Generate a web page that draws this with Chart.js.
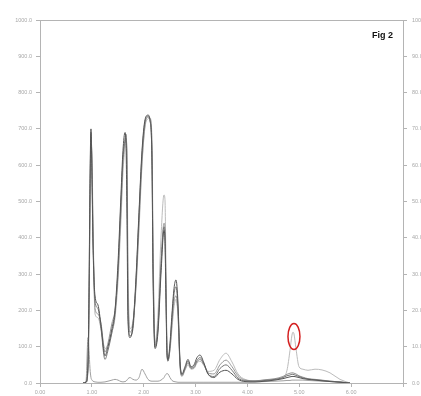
<!DOCTYPE html>
<html><head><meta charset="utf-8">
<script src="https://cdn.jsdelivr.net/npm/chart.js@4/dist/chart.umd.min.js"></script>
<style>
html,body{margin:0;padding:0;background:#fff;overflow:hidden;width:421px;height:396px}
#wrap{position:absolute;left:0;top:0;width:440px;height:396px}
</style>
</head><body><div id="wrap"><canvas id="c"></canvas></div>
<script>
// retention time (min)
const times = [0.829,0.887,0.926,0.945,0.964,0.983,1.003,1.022,1.061,1.118,1.176,1.253,1.311,1.388,1.446,1.504,1.562,1.600,1.639,1.658,1.678,1.697,1.735,1.793,1.851,1.909,1.967,2.025,2.083,2.121,2.160,2.179,2.218,2.275,2.333,2.391,2.410,2.429,2.449,2.468,2.507,2.545,2.584,2.622,2.661,2.700,2.738,2.796,2.854,2.912,2.970,3.027,3.085,3.162,3.240,3.355,3.471,3.587,3.702,3.818,3.953,4.146,4.339,4.531,4.686,4.763,4.821,4.859,4.878,4.898,4.936,4.994,5.071,5.168,5.303,5.438,5.592,5.785,5.978];

const traceA = [0,2,60,250,550,700,560,380,240,215,160,75,100,150,200,330,520,640,690,660,450,170,125,160,290,470,640,725,738,725,600,300,95,140,300,420,390,230,80,65,110,190,260,284,220,60,25,45,65,45,50,70,77,55,25,15,30,35,25,10,4,3,5,8,12,15,17,18,18,18,17,15,12,10,8,6,4,2,0];
const traceB = [0,3,50,230,520,690,580,400,225,205,150,65,90,140,190,310,500,620,670,685,560,200,130,150,280,460,630,720,735,722,610,330,100,150,320,430,410,250,85,60,100,180,245,265,205,55,22,40,60,42,45,62,70,52,25,18,40,50,35,14,6,5,7,10,15,20,22,24,24,23,21,18,14,11,9,7,5,3,0];
const traceC = [0,2,40,200,480,680,600,420,205,190,165,85,110,165,200,300,480,610,665,675,600,260,140,165,270,440,610,710,732,728,640,360,105,160,330,440,425,270,90,62,95,165,225,240,190,50,20,38,55,40,42,58,65,50,28,25,50,63,45,20,8,6,9,12,18,24,27,28,28,27,25,20,16,12,10,8,5,3,0];
const traceD = [0,2,35,180,450,670,620,450,190,180,150,95,105,140,180,280,450,580,650,670,640,320,150,170,260,420,600,705,728,730,670,400,110,190,400,518,505,320,100,68,90,150,210,230,185,45,18,35,50,38,40,55,60,48,32,35,65,82,58,25,10,6,8,10,15,35,90,132,140,135,95,45,38,35,38,36,28,10,0];
const traceE = [0,5,125,90,40,15,8,5,3,2,2,3,5,8,10,8,4,3,4,5,8,12,15,10,8,15,38,25,10,6,5,5,5,5,8,15,20,24,26,25,15,7,4,3,2,2,2,2,2,2,2,2,2,2,2,2,2,2,2,2,2,3,4,5,6,7,7,8,8,8,8,8,8,7,6,5,4,2,0];

const xTickLabels = ["0.00","1.00","2.00","3.00","4.00","5.00","6.00",""];
const highlight = {time: 4.878, value: 128};

const series = [
  {name:"A", values: traceA, color:"#555555"},
  {name:"B", values: traceB, color:"#767676"},
  {name:"C", values: traceC, color:"#959595"},
  {name:"D", values: traceD, color:"#bcbcbc"},
  {name:"E", values: traceE, color:"#a0a0a0"}
];

const datasets = series.map(s => ({
  label: s.name,
  data: times.map((t,i) => ({x:t, y:s.values[i]})),
  borderColor: s.color,
  borderWidth: 1,
  pointRadius: 0,
  fill: false,
  cubicInterpolationMode: 'monotone',
  yAxisID: 'y'
}));

const axisColor = '#b4b4b4';
const tickFont = {family: 'Arial, Liberation Sans, sans-serif', size: 5.5};

const deco = {
  id: 'deco',
  beforeDraw(chart){
    const ctx = chart.ctx;
    ctx.save(); ctx.fillStyle = '#fff'; ctx.fillRect(0,0,chart.width,chart.height); ctx.restore();
  },
  afterDatasetsDraw(chart){
    const ctx = chart.ctx, a = chart.chartArea;
    ctx.save();
    ctx.strokeStyle = axisColor; ctx.lineWidth = 1;
    ctx.beginPath(); ctx.moveTo(a.left, a.top + 0.5); ctx.lineTo(a.right, a.top + 0.5); ctx.stroke();
    const xs = chart.scales.x, ys = chart.scales.y;
    const cx = xs.getPixelForValue(highlight.time), cy = ys.getPixelForValue(highlight.value);
    ctx.strokeStyle = '#d42020'; ctx.lineWidth = 1.5;
    ctx.beginPath(); ctx.ellipse(cx + 1, cy, 6, 13, 0, 0, Math.PI*2); ctx.stroke();
    ctx.fillStyle = '#111'; ctx.font = 'bold 9px Arial, "Liberation Sans", sans-serif';
    ctx.textAlign = 'left'; ctx.textBaseline = 'middle';
    ctx.fillText('Fig 2', a.right - 31, a.top + 16);
    ctx.restore();
  }
};

new Chart(document.getElementById('c'), {
  type: 'line',
  data: {datasets},
  plugins: [deco],
  options: {
    responsive: true, maintainAspectRatio: false, animation: false,
    layout: {padding: {top: 20, left: 0, right: 0, bottom: 0}},
    plugins: {legend: {display: false}, tooltip: {enabled: false}},
    scales: {
      x: {
        type: 'linear', min: 0, max: 7, position: 'bottom',
        afterFit(s){ s.height = 13; },
        afterBuildTicks(s){ s.ticks = [0,1,2,3,4,5,6,7].map(v => ({value: v})); },
        ticks: {font: tickFont, color: '#a8a8a8', padding: 2, maxRotation: 0, autoSkip: false,
          callback: (v, i) => xTickLabels[i]},
        grid: {drawOnChartArea: false, drawTicks: true, tickLength: 4, color: axisColor},
        border: {display: true, color: axisColor}
      },
      y: {
        type: 'linear', min: 0, max: 1000, position: 'left',
        afterFit(s){ s.width = 40; },
        ticks: {stepSize: 100, font: tickFont, color: '#a8a8a8', padding: 4, callback: v => v.toFixed(1)},
        grid: {drawOnChartArea: false, drawTicks: true, tickLength: 4, color: axisColor},
        border: {display: true, color: axisColor}
      },
      yRight: {
        type: 'linear', min: 0, max: 100, position: 'right',
        afterFit(s){ s.width = 37; },
        ticks: {stepSize: 10, font: tickFont, color: '#a8a8a8', padding: 5, callback: v => v.toFixed(1)},
        grid: {drawOnChartArea: false, drawTicks: true, tickLength: 4, color: axisColor},
        border: {display: true, color: axisColor}
      }
    }
  }
});
</script>
</body></html>
